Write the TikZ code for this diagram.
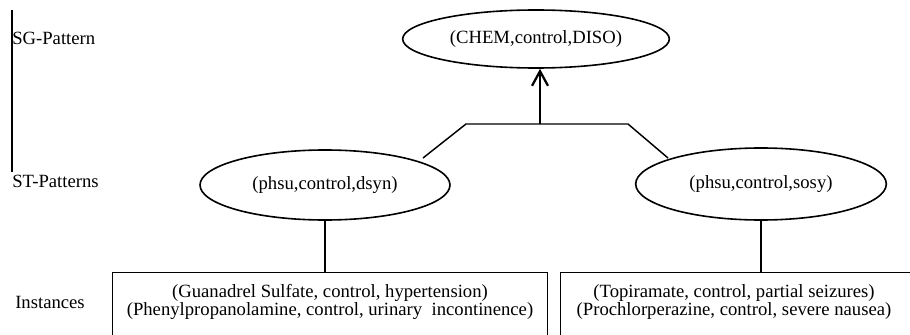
\documentclass[tikz,border=0pt]{standalone}
\usepackage{fontspec}
\setmainfont{Liberation Serif}
\usetikzlibrary{shapes.geometric,arrows.meta}
\tikzset{
  patnode/.style={draw,ellipse,line width=1.2pt,inner sep=0pt,font=\fontsize{14pt}{14pt}\selectfont},
  instbox/.style={draw,line width=0.9pt,inner sep=0pt,anchor=north west},
  instline/.style={align=center,inner sep=0pt,font=\fontsize{14pt}{13.5pt}\selectfont},
  rowlabel/.style={anchor=west,inner sep=0pt,font=\fontsize{14pt}{14pt}\selectfont},
  link/.style={line width=1.1pt}
}

\begin{document}
\begin{tikzpicture}[x=0.75pt,y=-0.75pt]
  \useasboundingbox (0,0) rectangle (910,335);
  \clip (0,0) rectangle (910,335);
  % level labels on the left
  \draw[line width=0.8pt] (12,10) -- (12,172);
  \node[rowlabel] (sglab) at (12,38) {SG-Pattern};
  \node[rowlabel] (stlab) at (12,181) {ST-Patterns};
  \node[rowlabel] (inlab) at (15,302) {Instances};
  % patterns
  \node[patnode,minimum width=200pt,minimum height=43.5pt] (sg) at (536,39) {(CHEM,control,DISO)};
  \node[patnode,minimum width=187.5pt,minimum height=52.5pt] (stl) at (325,185) {(phsu,control,dsyn)};
  \node[patnode,minimum width=188pt,minimum height=54pt] (str) at (761,184) {(phsu,control,sosy)};
  % instances
  \node[instbox,minimum width=326.25pt,minimum height=60pt] (boxl) at (112,272) {};
  \node[instbox,minimum width=264pt,minimum height=60pt] (boxr) at (560,272) {};
  \node[instline] (txtl) at (330,302) {(Guanadrel Sulfate, control, hypertension)\\(Phenylpropanolamine, control, urinary\ \ incontinence)};
  \node[instline] (txtr) at (734,302) {(Topiramate, control, partial seizures)\\(Prochlorperazine, control, severe nausea)};
  % generalisation links
  \coordinate (el) at (423,158);
  \coordinate (jl) at (466,124);
  \coordinate (jm) at (540,124);
  \coordinate (jr) at (628,124);
  \coordinate (er) at (668,158);
  \draw[link] (el) -- (jl) -- (jr) -- (er);
  \draw[line width=1.7pt,-{Straight Barb[length=11pt,width=12pt]}] (jm) -- (jm |- sg.south);
  \draw[link] (stl.south) -- (stl.south |- boxl.north);
  \draw[link] (str.south) -- (str.south |- boxr.north);
\end{tikzpicture}
\end{document}
